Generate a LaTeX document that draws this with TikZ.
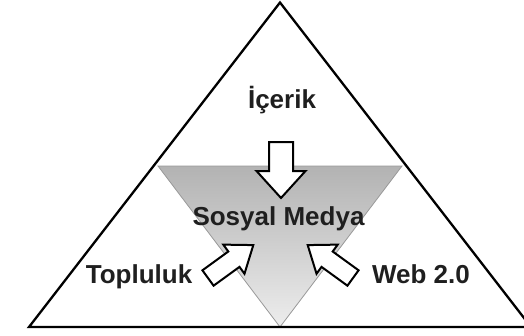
\documentclass[tikz,border=0pt]{standalone}
\usepackage{fontspec}
\setmainfont{Liberation Sans}
\begin{document}
\begin{tikzpicture}[x=1pt,y=-1pt,
  outline/.style={draw=black,line width=2.3pt,line join=miter},
  inner/.style={draw=black!40,line width=0.8pt,top color=black!30,bottom color=black!7},
  barrow/.style={draw=black,line width=2pt,fill=white,line join=miter},
  lbl/.style={font=\fontsize{26}{28}\selectfont\bfseries,text=black!88,inner sep=0pt,anchor=base}]
\useasboundingbox (0,0) rectangle (524,335);
\clip (0,0) rectangle (524,335);
\newcommand\myblockarrow[7]{%
  \begin{scope}[shift={(#1,#2)},rotate=#3]
    \draw[barrow] (0,-#7) -- ({#4-#5},-#7) -- ({#4-#5},-#6) -- (#4,0)
      -- ({#4-#5},#6) -- ({#4-#5},#7) -- (0,#7) -- cycle;
  \end{scope}}
% inner inverted triangle
\coordinate (il) at (158,166);
\coordinate (ir) at (402,166);
\coordinate (ib) at (280,327);
\path[inner] (il) -- (ir) -- (ib) -- cycle;
% outer triangle
\coordinate (ol) at (29,327);
\coordinate (ot) at (280,2.5);
\coordinate (or) at (531,327);
\draw[outline] (ol) -- (ot) -- (or) -- cycle;
% block arrows
\myblockarrow{281}{142}{-90}{56}{27}{24.5}{12}
\myblockarrow{208}{278}{36}{56}{24}{18}{9.5}
\myblockarrow{353}{278}{144}{56}{24}{18}{9.5}
% labels
\node[lbl] (icerik) at (282,108) {İçerik};
\node[lbl] (sm) at (278.5,225) {Sosyal Medya};
\node[lbl] (top) at (139,283) {Topluluk};
\node[lbl] (web) at (421,283) {Web 2.0};
\end{tikzpicture}
\end{document}
